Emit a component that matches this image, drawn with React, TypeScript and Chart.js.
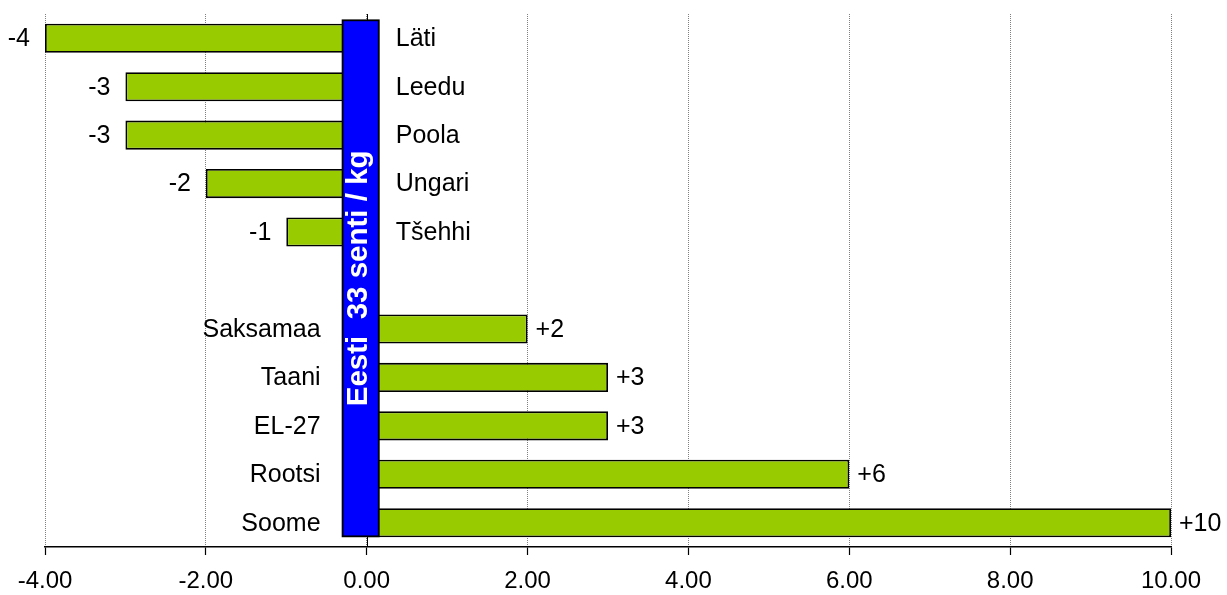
import React, { useEffect, useRef } from 'react';
import { Chart, registerables } from 'chart.js';

Chart.register(...registerables);

// ---- data ----
const CATEGORIES = ['Läti', 'Leedu', 'Poola', 'Ungari', 'Tšehhi', '', 'Saksamaa', 'Taani', 'EL-27', 'Rootsi', 'Soome'];
const DIFFERENCES: (number | null)[] = [-4, -3, -3, -2, -1, null, 2, 3, 3, 6, 10];
const X_TICKS = [-4, -2, 0, 2, 4, 6, 8, 10];
const EESTI_LABEL = 'Eesti  33 senti / kg';
const EESTI_BAND = [-0.3, 0.15];

const FONT = '"Liberation Sans", Arial, sans-serif';
const BAR_GREEN = '#99CC00';

const overlayPlugin = {
  id: 'overlay',
  afterDatasetsDraw(chart: any) {
    const { ctx, chartArea, scales } = chart;
    const xs = scales.x;
    const ys = scales.y;
    const x0 = xs.getPixelForValue(0);

    ctx.save();
    // y axis line at zero
    ctx.strokeStyle = '#000';
    ctx.lineWidth = 1;
    ctx.beginPath();
    ctx.moveTo(Math.round(x0) + 0.5, chartArea.top);
    ctx.lineTo(Math.round(x0) + 0.5, chartArea.bottom);
    ctx.stroke();

    // Eesti box
    const bx1 = xs.getPixelForValue(EESTI_BAND[0]);
    const bx2 = xs.getPixelForValue(EESTI_BAND[1]);
    const by1 = ys.getPixelForValue(-0.37);
    const by2 = ys.getPixelForValue(10.28);
    ctx.fillStyle = '#0000FF';
    ctx.fillRect(bx1, by1, bx2 - bx1, by2 - by1);
    ctx.lineWidth = 1.8;
    ctx.strokeStyle = '#000';
    ctx.strokeRect(bx1, by1, bx2 - bx1, by2 - by1);

    ctx.save();
    ctx.translate(bx1 + 24.5, (by1 + by2) / 2);
    ctx.rotate(-Math.PI / 2);
    ctx.fillStyle = '#FFFFFF';
    ctx.font = `bold 29.5px ${FONT}`;
    ctx.textAlign = 'center';
    ctx.textBaseline = 'alphabetic';
    ctx.fillText(EESTI_LABEL, 0, 0);
    ctx.restore();

    // category and value labels
    ctx.font = `25px ${FONT}`;
    ctx.fillStyle = '#000';
    ctx.textBaseline = 'middle';
    CATEGORIES.forEach((name, i) => {
      const v = DIFFERENCES[i];
      if (v === null || v === undefined) return;
      const y = ys.getPixelForValue(i) + 1;
      const xv = xs.getPixelForValue(v);
      if (v < 0) {
        ctx.textAlign = 'left';
        ctx.fillText(name, bx2 + 17, y);
        ctx.textAlign = 'right';
        ctx.fillText(String(v), xv - 15, y);
      } else {
        ctx.textAlign = 'right';
        ctx.fillText(name, bx1 - 22, y);
        ctx.textAlign = 'left';
        ctx.fillText('+' + v, xv + 8, y);
      }
    });
    ctx.restore();
  },
};

export default function App() {
  const ref = useRef<HTMLCanvasElement | null>(null);

  useEffect(() => {
    if (!ref.current) return;
    const chart = new Chart(ref.current, {
      type: 'bar',
      data: {
        labels: CATEGORIES,
        datasets: [
          {
            data: DIFFERENCES as any,
            backgroundColor: BAR_GREEN,
            borderColor: '#000',
            borderWidth: 1.8,
            borderSkipped: false,
            barPercentage: 0.6,
            categoryPercentage: 1,
          },
        ],
      },
      options: {
        indexAxis: 'y',
        animation: false,
        responsive: false,
        maintainAspectRatio: false,
        layout: { padding: { left: 45, right: 56, top: 14, bottom: 0 } },
        plugins: {
          legend: { display: false },
          tooltip: { enabled: false },
          title: { display: false },
        },
        scales: {
          y: {
            type: 'category',
            display: false,
            offset: true,
          },
          x: {
            type: 'linear',
            position: 'bottom',
            min: -4,
            max: 10,
            afterBuildTicks: (s: any) => {
              s.ticks = X_TICKS.map((v) => ({ value: v }));
            },
            afterFit: (s: any) => {
              s.height = 48;
            },
            ticks: {
              color: '#000',
              font: { family: FONT, size: 24 },
              padding: 12,
              maxRotation: 0,
              autoSkip: false,
              callback: (v: any) => Number(v).toFixed(2),
            },
            grid: {
              color: '#808080',
              lineWidth: 1,
              drawTicks: true,
              tickLength: 8,
              tickColor: '#000',
              tickWidth: 1.2,
              tickBorderDash: [],
            } as any,
            border: {
              display: true,
              color: '#000',
              width: 1.5,
              dash: [1, 1],
            } as any,
          },
        },
      },
      plugins: [overlayPlugin],
    });
    return () => chart.destroy();
  }, []);

  return (
    <div style={{ position: 'absolute', left: 0, top: 0, width: 1227, height: 595, background: '#fff' }}>
      <canvas ref={ref} width={1227} height={595} style={{ width: 1227, height: 595, display: 'block' }} />
    </div>
  );
}
